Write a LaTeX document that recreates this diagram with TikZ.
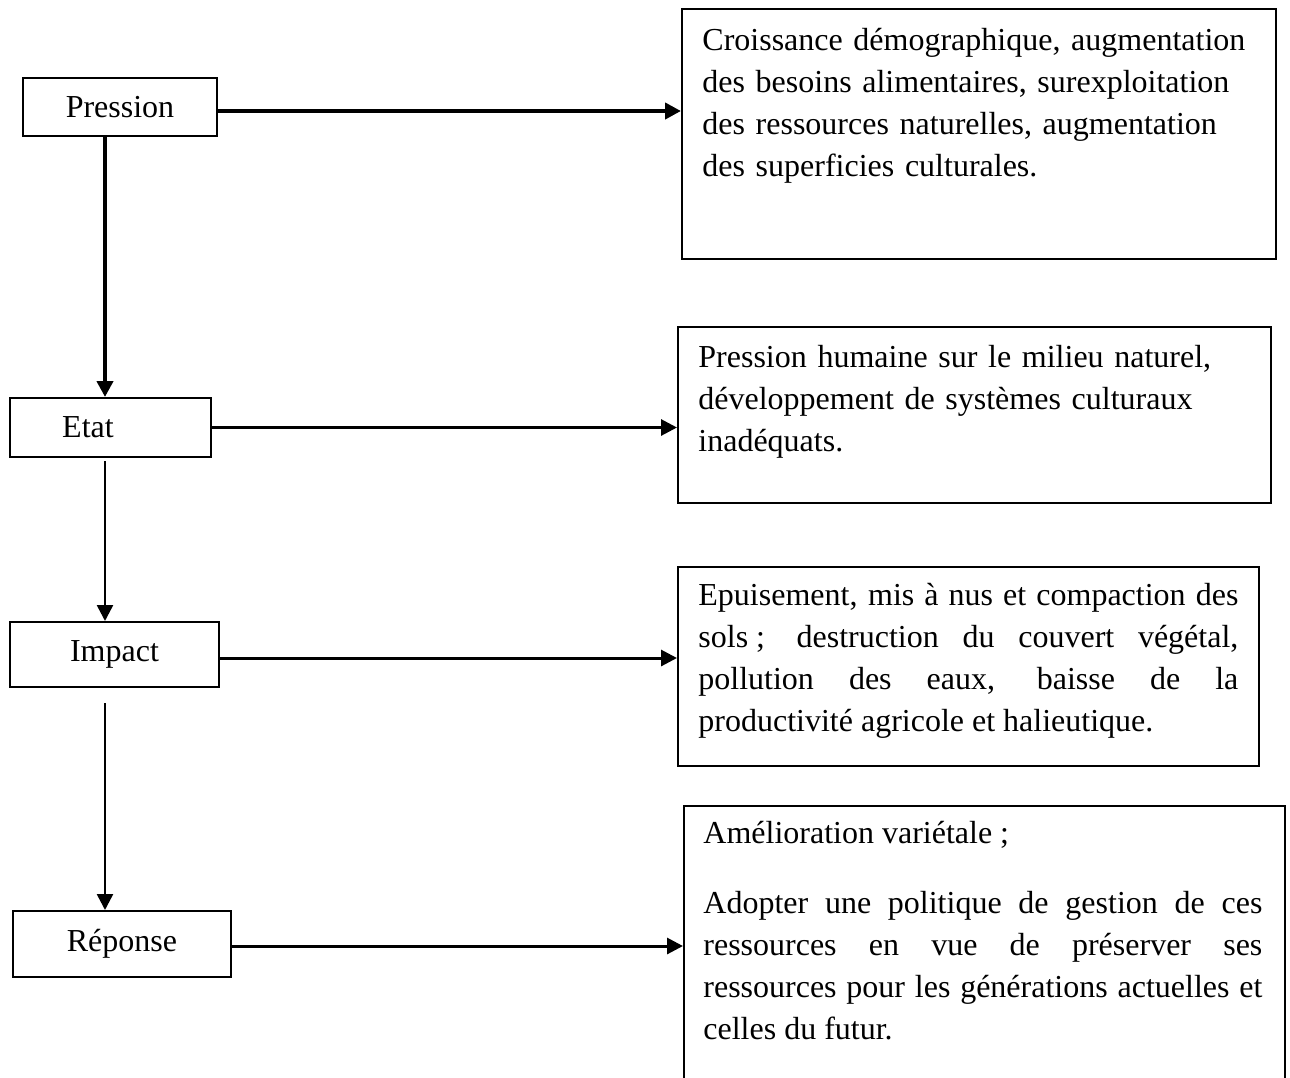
\documentclass[tikz,border=0pt]{standalone}
\usepackage{fontspec}
\setmainfont{Liberation Serif}
\usetikzlibrary{arrows.meta}
\tolerance=10000 \hbadness=10000 \hyphenpenalty=10000

\begin{document}
\begin{tikzpicture}[x=0.5pt, y=-0.5pt, >={Triangle[length=8pt, width=8pt]},
    every node/.style={font=\fontsize{16}{21}\selectfont},
    stage/.style={draw, line width=1pt, inner sep=0pt},
    descbox/.style={draw, line width=1pt, inner sep=0pt, anchor=north west},
    desctext/.style={inner sep=0pt, anchor=base west},
    link/.style={->, line width=1.5pt},
    spinelink/.style={->, line width=1.25pt}]
  \useasboundingbox (0,0) rectangle (1290,1077);
  \coordinate (spine) at (105,0);
  % left column
  \node[stage, minimum width=97pt, minimum height=29pt] (pression) at (120,107) {Pression};
  \node[stage, minimum width=100.5pt, minimum height=29.5pt] (etat) at (110.5,427.5) {Etat\rule{22.5pt}{0pt}};
  \node[stage, minimum width=104.5pt, minimum height=32.5pt] (impact) at (114.5,654.5) {Impact};
  \node[stage, minimum width=109pt, minimum height=33pt] (reponse) at (122,944) {Réponse};
  % right column
  \node[descbox, minimum width=297pt, minimum height=125pt] (presdesc) at (681,8) {};
  \node[desctext, text width=272pt, align=left] (prestxt) at (702,50) {Croissance démographique, augmentation\\des besoins alimentaires, surexploitation\\des ressources naturelles, augmentation\\des superficies culturales.};
  \node[descbox, minimum width=296.5pt, minimum height=88pt] (etatdesc) at (677,326) {};
  \node[desctext, text width=272pt, align=left] (etattxt) at (698,367) {Pression humaine sur le milieu naturel,\\développement de systèmes culturaux\\inadéquats.};
  \node[descbox, minimum width=290.5pt, minimum height=99.5pt] (impdesc) at (677,566) {};
  \node[desctext, text width=270pt, align=justify] (imptxt) at (698,605) {Epuisement, mis à nus et compaction des\linebreak sols\kern.25em; destruction du couvert végétal,\linebreak pollution des eaux, baisse de la\linebreak productivité agricole et halieutique.};
  \node[descbox, minimum width=300.5pt, minimum height=150pt] (repdesc) at (683,805) {};
  \node[desctext, text width=279.5pt, align=justify] (reptxt) at (703,843) {Amélioration variétale\kern.25em;\\[14pt]Adopter une politique de gestion de ces\linebreak ressources en vue de préserver ses\linebreak ressources pour les générations actuelles et\linebreak celles du futur.};
  % connectors
  \draw[link, line width=2pt] ([yshift=-2pt]pression.east) -- ([yshift=-2pt]pression.east -| presdesc.west);
  \draw[link] (etat.east) -- (etat.east -| etatdesc.west);
  \draw[link] ([yshift=-1.75pt]impact.east) -- ([yshift=-1.75pt]impact.east -| impdesc.west);
  \draw[link] ([yshift=-1pt]reponse.east) -- ([yshift=-1pt]reponse.east -| repdesc.west);
  \draw[->, line width=2pt] (pression.south -| spine) -- (etat.north -| spine);
  \draw[spinelink, shorten <=1.5pt] (etat.south -| spine) -- (impact.north -| spine);
  \draw[spinelink, shorten <=7.5pt] (impact.south -| spine) -- (reponse.north -| spine);
\end{tikzpicture}
\end{document}
